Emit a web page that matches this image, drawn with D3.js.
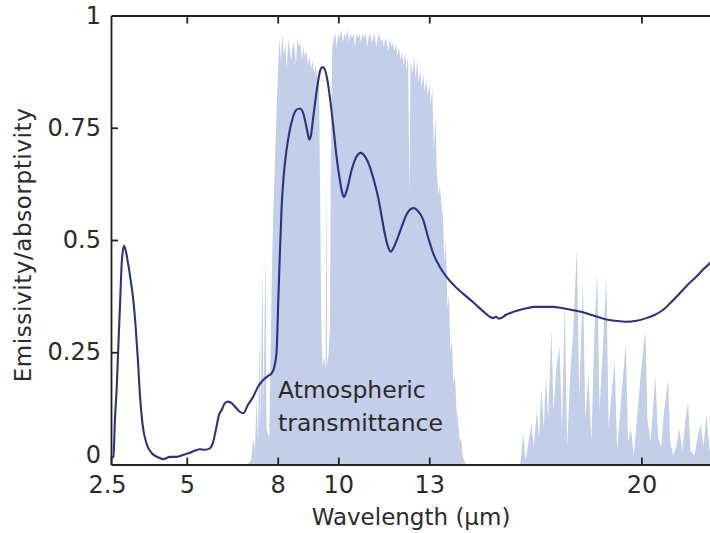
<!DOCTYPE html>
<html>
<head>
<meta charset="utf-8">
<script src="https://cdn.jsdelivr.net/npm/d3@7"></script>
<style>
  html, body { margin: 0; padding: 0; background: #fff; }
  svg { display: block; }
  text { font-family: "DejaVu Sans", sans-serif; fill: #2b2b2b; }
</style>
</head>
<body>
<svg id="chart" width="710" height="533"></svg>
<script>
// Emissivity/absorptivity of the film (wavelength in µm, value 0–1)
const emisWl = [2.52, 2.58, 2.63, 2.69, 2.75, 2.80, 2.86, 2.93, 2.99, 3.07, 3.15, 3.23, 3.31, 3.39, 3.46, 3.54, 3.68, 3.85,
  4.05, 4.22, 4.45, 4.67, 4.87, 5.10, 5.27, 5.43, 5.60, 5.76, 5.86, 5.98, 6.06, 6.15, 6.26, 6.37, 6.49, 6.59, 6.72,
  6.86, 7.02, 7.19, 7.35, 7.52, 7.68, 7.80, 7.88, 7.96, 8.02, 8.07, 8.13, 8.20, 8.29, 8.40, 8.51, 8.62, 8.73,
  8.83, 8.90, 8.98, 9.04, 9.10, 9.16, 9.23, 9.33, 9.41, 9.48, 9.56, 9.64, 9.72, 9.83, 9.94, 10.05, 10.12, 10.19,
  10.28, 10.44, 10.58, 10.74, 10.89, 11.04, 11.17, 11.31, 11.42, 11.53, 11.63, 11.73, 11.83, 11.97, 12.11, 12.26,
  12.39, 12.50, 12.62, 12.80, 12.95, 13.13, 13.35, 13.57, 13.80, 14.05, 14.30, 14.55, 14.80, 14.98, 15.10, 15.20, 15.30, 15.40,
  15.52, 15.70, 15.92, 16.21, 16.48, 16.75, 17.07, 17.41, 17.80, 18.18, 18.49, 18.84, 19.15, 19.50, 19.84, 20.16,
  20.43, 20.71, 20.96, 21.26, 21.52, 21.81, 22.02, 22.25, 22.75];
const emisVal = [0.015, 0.017, 0.10, 0.173, 0.277, 0.36, 0.455, 0.487, 0.475, 0.445, 0.41, 0.37, 0.31, 0.23, 0.15, 0.09, 0.045, 0.025,
  0.016, 0.012, 0.017, 0.017, 0.021, 0.026, 0.031, 0.034, 0.033, 0.036, 0.048, 0.084, 0.11, 0.121, 0.137, 0.14, 0.136, 0.129, 0.119,
  0.114, 0.133, 0.151, 0.173, 0.188, 0.197, 0.203, 0.215, 0.248, 0.366, 0.467, 0.574, 0.645, 0.70, 0.745, 0.775, 0.79, 0.793,
  0.785, 0.767, 0.741, 0.724, 0.734, 0.767, 0.804, 0.852, 0.879, 0.885, 0.879, 0.856, 0.819, 0.756, 0.686, 0.634, 0.607, 0.596,
  0.611, 0.656, 0.683, 0.694, 0.685, 0.663, 0.634, 0.596, 0.556, 0.515, 0.487, 0.474, 0.484, 0.507, 0.533, 0.558,
  0.569, 0.571, 0.565, 0.545, 0.509, 0.47, 0.44, 0.418, 0.40, 0.384, 0.37, 0.355, 0.34, 0.33, 0.326, 0.329, 0.325, 0.327,
  0.333, 0.338, 0.343, 0.348, 0.351, 0.351, 0.351, 0.348, 0.343, 0.337, 0.33, 0.323, 0.32, 0.318, 0.32, 0.326,
  0.333, 0.344, 0.36, 0.381, 0.40, 0.418, 0.433, 0.448, 0.477];

// Atmospheric transmittance spectrum (wavelength in µm, value 0–1)
const atmWl = [2.5, 7.0, 7.12, 7.2, 7.25, 7.3, 7.35, 7.4, 7.43, 7.5, 7.53, 7.6, 7.63, 7.72, 7.8, 7.85, 7.92, 7.98,
  8.05, 8.1, 8.15, 8.2, 8.25, 8.3, 8.35, 8.4, 8.45, 8.5, 8.55, 8.6, 8.65, 8.7, 8.75, 8.8, 8.85, 8.9, 8.95, 9.0,
  9.05, 9.1, 9.15, 9.2, 9.25, 9.3, 9.36,
  9.40, 9.44, 9.48, 9.53, 9.58, 9.61, 9.63, 9.68, 9.72, 9.76, 9.8,
  9.85, 9.9, 9.95, 10.0, 10.05, 10.1, 10.15, 10.2, 10.25, 10.3, 10.35, 10.4, 10.45, 10.5, 10.55, 10.6, 10.65, 10.7,
  10.75, 10.8, 10.85, 10.9, 10.95, 11.0, 11.05, 11.1, 11.15, 11.2, 11.25, 11.3, 11.35, 11.4, 11.45, 11.5, 11.55,
  11.6, 11.65, 11.7, 11.75, 11.8, 11.85, 11.9, 11.95, 12.0, 12.05, 12.1, 12.15, 12.2, 12.25, 12.3, 12.35, 12.38,
  12.45, 12.5, 12.55, 12.6, 12.65, 12.7, 12.75, 12.8, 12.85, 12.9, 12.95, 13.0, 13.05, 13.1, 13.15, 13.2, 13.25,
  13.3, 13.35, 13.4, 13.45, 13.5, 13.55, 13.6, 13.65, 13.7, 13.75, 13.8, 13.85, 13.9, 13.95, 14.0, 14.05, 14.1, 14.2,
  16.0, 16.1, 16.18, 16.3, 16.37, 16.45, 16.55, 16.62, 16.7, 16.78, 16.85, 16.92, 17.03, 17.1, 17.2, 17.3, 17.38,
  17.47, 17.55, 17.65, 17.75, 17.87, 17.95, 18.07, 18.15, 18.25, 18.35, 18.45, 18.54, 18.62, 18.72, 18.84, 18.92,
  19.0, 19.12, 19.2, 19.3, 19.4, 19.48, 19.56, 19.65, 19.75, 19.85, 19.95, 20.05, 20.13, 20.2, 20.3, 20.38, 20.46,
  20.55, 20.65, 20.75, 20.88, 20.95, 21.05, 21.15, 21.25, 21.35, 21.45, 21.54, 21.62, 21.75, 21.85, 21.95, 22.05,
  22.14, 22.25, 22.4, 22.6, 23.0, 25.0];
const atmVal = [0, 0, 0.01, 0.06, 0.03, 0.15, 0.05, 0.3, 0.08, 0.45, 0.12, 0.48, 0.08, 0.06, 0.4, 0.55, 0.7, 0.82,
  0.95, 0.9, 0.96, 0.91, 0.94, 0.88, 0.95, 0.92, 0.9, 0.94, 0.93, 0.89, 0.95, 0.93, 0.94, 0.9, 0.93, 0.91, 0.92, 0.89,
  0.91, 0.88, 0.9, 0.87, 0.89, 0.86, 0.88,
  0.6, 0.3, 0.22, 0.24, 0.21, 0.7, 0.22, 0.25, 0.3, 0.75, 0.93,
  0.95, 0.96, 0.93, 0.96, 0.95, 0.97, 0.94, 0.96, 0.95, 0.97, 0.94, 0.96, 0.95, 0.96, 0.93, 0.96, 0.95, 0.96,
  0.94, 0.96, 0.95, 0.96, 0.93, 0.95, 0.96, 0.94, 0.95, 0.96, 0.93, 0.95, 0.96, 0.94, 0.95, 0.93, 0.95,
  0.94, 0.92, 0.95, 0.93, 0.94, 0.92, 0.94, 0.91, 0.93, 0.9, 0.92, 0.89, 0.92, 0.88, 0.91, 0.6, 0.9,
  0.87, 0.91, 0.86, 0.9, 0.85, 0.88, 0.84, 0.87, 0.83, 0.86, 0.82, 0.85, 0.8, 0.84, 0.7, 0.78, 0.65,
  0.6, 0.62, 0.58, 0.55, 0.45, 0.5, 0.35, 0.38, 0.25, 0.28, 0.18, 0.2, 0.12, 0.1, 0.05, 0.06, 0.02, 0,
  0, 0.07, 0.01, 0.06, 0.09, 0.04, 0.12, 0.06, 0.17, 0.08, 0.2, 0.1, 0.3, 0.12, 0.22, 0.26, 0.08,
  0.36, 0.04, 0.2, 0.3, 0.48, 0.15, 0.41, 0.1, 0.2, 0.05, 0.3, 0.43, 0.12, 0.25, 0.42, 0.08,
  0.15, 0.23, 0.03, 0.12, 0.2, 0.27, 0.05, 0.08, 0.02, 0.1, 0.18, 0.25, 0.3, 0.1, 0.05, 0.12, 0.2,
  0.06, 0.04, 0.12, 0.19, 0.05, 0.02, 0.04, 0.08, 0.03, 0.1, 0.14, 0.03, 0.02, 0.06, 0.09, 0.04,
  0.11, 0.03, 0.08, 0.02, 0.05, 0.05];

const xTicks = [2.5, 5, 8, 10, 13, 20];
const xTickLabels = ["2.5", "5", "8", "10", "13", "20"];
const yTicks = [0, 0.25, 0.5, 0.75, 1];
const yTickLabels = ["0", "0.25", "0.5", "0.75", "1"];

const svg = d3.select("#chart");
const plotLeft = 111, plotTop = 15.5, plotBottom = 464.5;

const x = d3.scaleLinear().domain([2.5, 25]).range([plotLeft, plotLeft + 22.5 * 30.31]);
const y = d3.scaleLinear().domain([0, 1]).range([plotBottom, plotTop]);

svg.append("defs").append("clipPath").attr("id", "plot")
  .append("rect").attr("x", plotLeft).attr("y", plotTop)
  .attr("width", x(25) - plotLeft).attr("height", plotBottom - plotTop);

const plot = svg.append("g").attr("clip-path", "url(#plot)");

// Atmospheric transmittance band
const atm = atmWl.map((w, i) => [w, atmVal[i]]);
plot.append("path")
  .datum(atm)
  .attr("fill", "#c3cee8")
  .attr("d", d3.area().x(d => x(d[0])).y0(y(0)).y1(d => y(d[1])));

// Emissivity curve
const emis = emisWl.map((w, i) => [w, emisVal[i]]);
plot.append("path")
  .datum(emis)
  .attr("fill", "none")
  .attr("stroke", "#2f3180")
  .attr("stroke-width", 2.1)
  .attr("stroke-linejoin", "round")
  .attr("d", d3.line().x(d => x(d[0])).y(d => y(d[1])).curve(d3.curveMonotoneX));

// Axes: ticks point into the plot
function styleAxis(g) {
  g.select(".domain").attr("stroke", "#222").attr("stroke-width", 1.8);
  g.selectAll(".tick line").attr("stroke", "#222").attr("stroke-width", 1.8);
  g.selectAll(".tick text").attr("font-size", 24).attr("fill", "#2b2b2b")
    .attr("font-family", "DejaVu Sans, sans-serif");
}

const xAxisB = svg.append("g").attr("transform", `translate(0,${plotBottom})`)
  .call(d3.axisBottom(x).tickValues(xTicks).tickSizeInner(-7).tickSizeOuter(0).tickPadding(11)
    .tickFormat((d, i) => xTickLabels[i]));
styleAxis(xAxisB);
xAxisB.selectAll(".tick text").filter(d => d === 2.5).attr("dx", -4);

const xAxisT = svg.append("g").attr("transform", `translate(0,${plotTop})`)
  .call(d3.axisTop(x).tickValues(xTicks.filter(d => d !== 2.5)).tickSizeInner(-8).tickSizeOuter(0).tickFormat(""));
styleAxis(xAxisT);

const yAxis = svg.append("g").attr("transform", `translate(${plotLeft},0)`)
  .call(d3.axisLeft(y).tickValues(yTicks).tickSizeInner(-7).tickSizeOuter(0).tickPadding(10)
    .tickFormat((d, i) => yTickLabels[i]));
styleAxis(yAxis);
yAxis.selectAll(".tick line").filter(d => d === 0 || d === 1).remove();
yAxis.selectAll(".tick text").filter(d => d === 0).attr("dy", "-0.08em");

// Axis titles
svg.append("text")
  .attr("x", 411).attr("y", 525)
  .attr("text-anchor", "middle").attr("font-size", 23)
  .text("Wavelength (µm)");

svg.append("text")
  .attr("transform", "translate(31,245) rotate(-90)")
  .attr("text-anchor", "middle").attr("font-size", 23)
  .attr("letter-spacing", 0.6)
  .text("Emissivity/absorptivity");

// Band annotation
const note = svg.append("text").attr("font-size", 23.5);
note.append("tspan").attr("x", 278).attr("y", 398).text("Atmospheric");
note.append("tspan").attr("x", 278).attr("y", 431).text("transmittance");
</script>
</body>
</html>
